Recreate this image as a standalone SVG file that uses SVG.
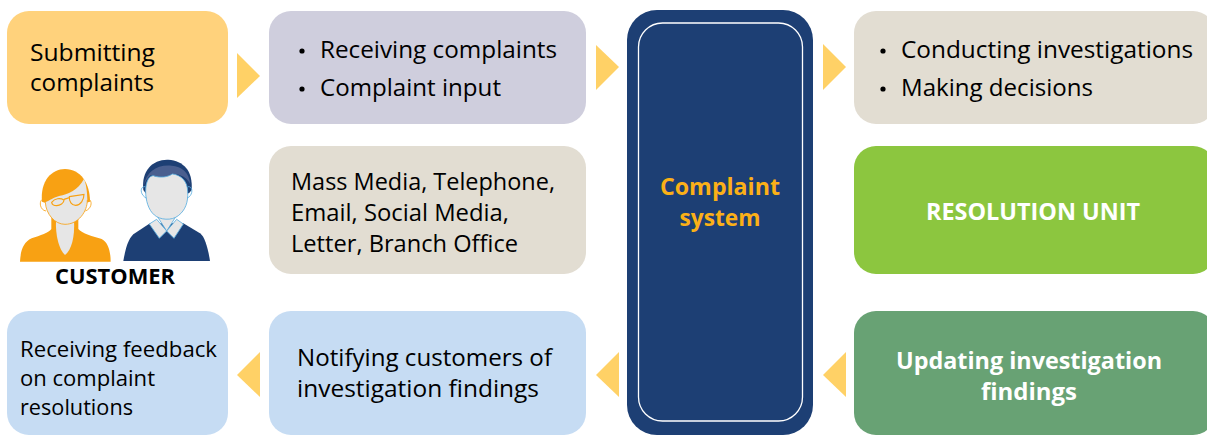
<svg xmlns="http://www.w3.org/2000/svg" width="1207" height="435" viewBox="0 0 1207 435">
<style>
text{font-family:"Open Sans","Noto Sans","Liberation Sans",sans-serif;fill:#000}
.t{font-size:23px}
.w{font-weight:700;fill:#fff;text-anchor:middle}
.arr{fill:#ffd166}
.sand{fill:#e2ddd2}
.blue{fill:#c6dcf3}
.or{fill:#f8a113}
.gr{fill:#e6e6e6}
.ol{fill:none;stroke:#f8a113;stroke-width:2.500}
.bl{stroke:#5aaee0;stroke-width:2.500}
</style>
<g id="connectors">
<polygon class="arr" points="237,53 260,76 237,98"/>
<polygon class="arr" points="596,45 619,67 596,90"/>
<polygon class="arr" points="823,44 846,67 823,90"/>
<polygon class="arr" points="846,352 823,375 846,397"/>
<polygon class="arr" points="619,352 596,375 619,397"/>
<polygon class="arr" points="260,352 237,375 260,397"/>
</g>
<g id="n-submit"><rect x="7" y="11" width="221" height="113" rx="22" fill="#ffd27c"/>
<text class="t" x="30" y="61" textLength="125" lengthAdjust="spacingAndGlyphs">Submitting</text><text class="t" x="30" y="91" textLength="124" lengthAdjust="spacingAndGlyphs">complaints</text></g>
<g id="n-receive"><rect x="269" y="11" width="317" height="113" rx="22" fill="#cfcedd"/>
<circle cx="302" cy="51" r="2.600"/><circle cx="302" cy="89" r="2.600"/>
<text class="t" x="320" y="58" textLength="237" lengthAdjust="spacingAndGlyphs">Receiving complaints</text><text class="t" x="320" y="96" textLength="181" lengthAdjust="spacingAndGlyphs">Complaint input</text></g>
<g id="n-system"><rect x="627" y="10" width="186" height="425" rx="30" fill="#1d3f74"/>
<rect x="638.500" y="23" width="164" height="398" rx="24" fill="none" stroke="#fff" stroke-width="1.300"/>
<text x="720" y="195" font-size="23" font-weight="700" text-anchor="middle" style="fill:#fbb017" textLength="120" lengthAdjust="spacingAndGlyphs">Complaint</text><text x="720" y="226" font-size="23" font-weight="700" text-anchor="middle" style="fill:#fbb017" textLength="81" lengthAdjust="spacingAndGlyphs">system</text></g>
<g id="n-investigate"><rect class="sand" x="854" y="11" width="361" height="113" rx="22"/>
<circle cx="883" cy="51" r="2.600"/><circle cx="883" cy="89" r="2.600"/>
<text class="t" x="901" y="58" textLength="292" lengthAdjust="spacingAndGlyphs">Conducting investigations</text><text class="t" x="901" y="96" textLength="192" lengthAdjust="spacingAndGlyphs">Making decisions</text></g>
<g id="n-customer">
<g transform="translate(10,155) scale(.3333)">
<path class="or" d="M30,320C32,285 40,262 65,250C90,242 118,232 124,222L124,150L205,150L205,222C215,235 250,245 275,252C295,262 302,290 302,320Z"/>
<path class="gr" d="M138,195L192,195C195,245 185,285 165,300C148,285 136,245 138,195Z"/>
<path class="ol" d="M100,132C86,135 88,165 108,168M232,132C248,132 248,160 226,168"/>
<path class="or" d="M96,140C90,78 125,42 165,42C212,42 240,85 240,140L205,150L124,150Z"/>
<path class="gr" d="M222,72C205,105 170,120 150,122C130,128 120,135 106,142C108,178 135,208 165,208C205,208 232,170 232,135C232,110 228,85 222,72Z"/>
<path class="ol" d="M106,142C108,178 135,208 165,208C205,208 232,170 232,135"/>
<path d="M125,142C135,130 150,128 162,135C162,145 150,152 140,152C132,152 126,148 125,142ZM178,125L222,118C222,135 212,150 197,151C185,151 177,140 178,125ZM162,133L178,128" fill="none" stroke="#f8a113" stroke-width="3.500"/>
</g>
<g transform="translate(115,155) scale(.3333)">
<path d="M25,318C32,280 38,255 55,238L105,205L205,205L255,235C270,245 280,285 285,318Z" fill="#1d3f74"/>
<path class="gr bl" d="M123,178L187,178L155,228Z"/>
<path class="gr bl" d="M103,207L125,193L155,228L133,250Z"/>
<path class="gr bl" d="M205,207L185,193L155,228L177,250Z"/>
<path d="M85,105C78,45 115,12 160,14C205,18 234,45 230,105L222,115L92,115Z" fill="#1d3f74"/>
<path d="M86,92C95,50 125,28 170,32C200,35 222,50 226,88C218,72 205,62 185,58C160,68 130,70 108,60C98,68 90,80 86,92Z" fill="#4a5f8f"/>
<path class="gr bl" d="M92,110C92,78 103,62 115,62C135,70 160,66 172,57C198,60 218,78 218,110C220,140 212,165 190,182C170,198 135,195 118,180C100,165 92,135 92,110Z"/>
<path d="M91,95C76,92 72,118 95,130M219,95C234,93 236,120 216,130" fill="none" class="bl"/>
</g>
<text x="115" y="284" font-size="22" font-weight="700" text-anchor="middle" textLength="120" lengthAdjust="spacingAndGlyphs">CUSTOMER</text></g>
<g id="n-channels"><rect class="sand" x="269" y="146" width="317" height="128" rx="22"/>
<text class="t" x="291" y="190" textLength="264" lengthAdjust="spacingAndGlyphs">Mass Media, Telephone,</text><text class="t" x="291" y="221" textLength="218" lengthAdjust="spacingAndGlyphs">Email, Social Media,</text><text class="t" x="291" y="252" textLength="227" lengthAdjust="spacingAndGlyphs">Letter, Branch Office</text></g>
<g id="n-unit"><rect x="854" y="146" width="361" height="128" rx="22" fill="#8cc63f"/>
<text class="w" x="1033" y="220" font-size="23" textLength="214" lengthAdjust="spacingAndGlyphs">RESOLUTION UNIT</text></g>
<g id="n-feedback"><rect class="blue" x="7" y="311" width="221" height="124" rx="22"/>
<text x="20" y="357" font-size="22" textLength="197" lengthAdjust="spacingAndGlyphs">Receiving feedback</text><text x="20" y="386" font-size="22" textLength="135" lengthAdjust="spacingAndGlyphs">on complaint</text><text x="20" y="415" font-size="22" textLength="113" lengthAdjust="spacingAndGlyphs">resolutions</text></g>
<g id="n-notify"><rect class="blue" x="269" y="311" width="317" height="124" rx="22"/>
<text class="t" x="297" y="366" textLength="255" lengthAdjust="spacingAndGlyphs">Notifying customers of</text><text class="t" x="297" y="397" textLength="242" lengthAdjust="spacingAndGlyphs">investigation findings</text></g>
<g id="n-update"><rect x="854" y="311" width="361" height="124" rx="22" fill="#68a274"/>
<text class="w" x="1029" y="369" font-size="23" textLength="266" lengthAdjust="spacingAndGlyphs">Updating investigation</text><text class="w" x="1029" y="400" font-size="23" textLength="96" lengthAdjust="spacingAndGlyphs">findings</text></g>
</svg>
